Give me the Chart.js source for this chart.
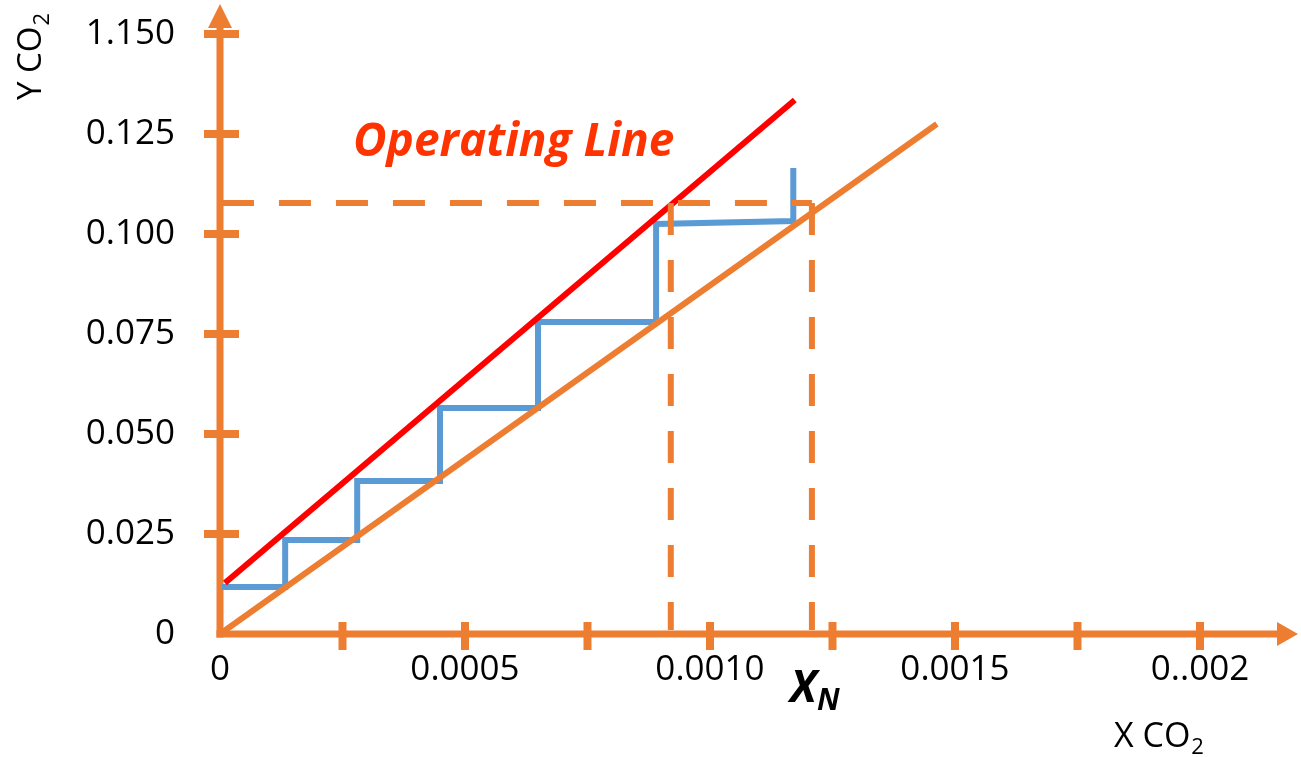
<!DOCTYPE html>
<html><head><meta charset="utf-8">
<script src="https://cdn.jsdelivr.net/npm/chart.js@4.4.1/dist/chart.umd.min.js"></script>
<style>html,body{margin:0;padding:0;background:#fff;overflow:hidden}#wrap{width:1301px;height:757px}</style>
</head><body><div id="wrap"><canvas id="c" width="1301" height="757"></canvas></div>
<script>
// ---- data ----
const xTickValues = [0, 0.00025, 0.0005, 0.00075, 0.001, 0.00125, 0.0015, 0.00175, 0.002];
const xTickLabels = ['0', '', '0.0005', '', '0.0010', '', '0.0015', '', '0..002'];
const yTickValues = [0, 0.025, 0.05, 0.075, 0.1, 0.125, 0.15];
const yTickLabels = ['0', '0.025', '0.050', '0.075', '0.100', '0.125', '1.150'];

const equilibriumX = [0, 0.001463];
const equilibriumY = [0, 0.1275];
const operatingX = [0.00001, 0.001173];
const operatingY = [0.01275, 0.1335];
const stageX = [0.000004, 0.000133, 0.000133, 0.00028, 0.00028, 0.000449, 0.000449, 0.000649, 0.000649, 0.00089, 0.00089, 0.00117, 0.00117];
const stageY = [0.01175, 0.01175, 0.0235, 0.0235, 0.03825, 0.03825, 0.0565, 0.0565, 0.078, 0.078, 0.1025, 0.10325, 0.1165];
const guideHX = [0.000004, 0.001208];
const guideHY = [0.10775, 0.10775];
const guideV1X = [0.00092, 0.00092];
const guideV1Y = [0.10775, 0.001];
const guideV2X = [0.001208, 0.001208];
const guideV2Y = [0.10775, 0.001];

const ORANGE = '#ED7D31', RED = '#FF0000', BLUE = '#5B9BD5';
const FONT = '"Open Sans", "Liberation Sans", sans-serif';

const pts = (xs, ys) => xs.map((x, i) => ({x, y: ys[i]}));
const noPad = s => { s.paddingTop = 0; s.paddingBottom = 0; s.paddingLeft = 0; s.paddingRight = 0; };

const axesPlugin = {
  id: 'axes',
  beforeDatasetsDraw(chart) {
    const {ctx, chartArea: a, scales: {x, y}} = chart;
    const ox = x.getPixelForValue(0), oy = y.getPixelForValue(0);
    ctx.save();
    ctx.strokeStyle = ORANGE; ctx.fillStyle = ORANGE; ctx.lineCap = 'butt';
    ctx.lineWidth = 7;
    ctx.beginPath(); ctx.moveTo(ox, oy + 3.5); ctx.lineTo(ox, a.top + 20); ctx.stroke();
    ctx.beginPath(); ctx.moveTo(ox, a.top); ctx.lineTo(ox - 12, a.top + 24); ctx.lineTo(ox + 12, a.top + 24); ctx.closePath(); ctx.fill();
    ctx.beginPath(); ctx.moveTo(ox - 3.5, oy); ctx.lineTo(a.right - 18, oy); ctx.stroke();
    ctx.beginPath(); ctx.moveTo(a.right, oy); ctx.lineTo(a.right - 21, oy - 12); ctx.lineTo(a.right - 21, oy + 12); ctx.closePath(); ctx.fill();
    ctx.lineWidth = 8;
    yTickValues.forEach(v => { if (v === 0) return; const py = y.getPixelForValue(v);
      ctx.beginPath(); ctx.moveTo(ox - 16, py); ctx.lineTo(ox + 19, py); ctx.stroke(); });
    xTickValues.forEach(v => { if (v === 0) return; const px = x.getPixelForValue(v);
      ctx.beginPath(); ctx.moveTo(px, oy - 12); ctx.lineTo(px, oy + 16); ctx.stroke(); });
    ctx.restore();
  }
};

const textPlugin = {
  id: 'texts',
  afterDraw(chart) {
    const {ctx} = chart;
    ctx.save();
    ctx.textBaseline = 'alphabetic'; ctx.textAlign = 'left';
    ctx.fillStyle = '#FF3300';
    ctx.font = 'italic bold 46px ' + FONT;
    ctx.fillText('Operating Line', 353, 156);
    ctx.fillStyle = '#000';
    ctx.font = 'italic bold 44px ' + FONT;
    ctx.fillText('X', 790, 702);
    ctx.font = 'italic bold 30px ' + FONT;
    ctx.fillText('N', 817, 710);
    ctx.font = '34px ' + FONT;
    ctx.fillText('X CO', 1114, 747);
    let w = ctx.measureText('X CO').width;
    ctx.font = '22px ' + FONT;
    ctx.fillText('2', 1114 + w + 1, 754);
    ctx.translate(41, 100); ctx.rotate(-Math.PI / 2);
    ctx.font = '33px ' + FONT;
    ctx.fillText('Y CO', 0, 0);
    w = ctx.measureText('Y CO').width;
    ctx.font = '22px ' + FONT;
    ctx.fillText('2', w + 1, 8);
    ctx.restore();
  }
};

new Chart(document.getElementById('c'), {
  type: 'scatter',
  data: {
    datasets: [
      {data: pts(guideHX, guideHY), borderColor: ORANGE, borderWidth: 6, borderDash: [32, 25], showLine: true, pointRadius: 0},
      {data: pts(guideV1X, guideV1Y), borderColor: ORANGE, borderWidth: 6, borderDash: [32, 25], showLine: true, pointRadius: 0},
      {data: pts(guideV2X, guideV2Y), borderColor: ORANGE, borderWidth: 6, borderDash: [32, 25], showLine: true, pointRadius: 0},
      {data: pts(equilibriumX, equilibriumY), borderColor: ORANGE, borderWidth: 6, showLine: true, pointRadius: 0},
      {data: pts(operatingX, operatingY), borderColor: RED, borderWidth: 6, showLine: true, pointRadius: 0},
      {data: pts(stageX, stageY), borderColor: BLUE, borderWidth: 6, showLine: true, pointRadius: 0, borderJoinStyle: 'miter'}
    ]
  },
  options: {
    responsive: false, devicePixelRatio: 1, animation: false,
    layout: {padding: {top: 4, right: 3, left: 0, bottom: 0}},
    plugins: {legend: {display: false}, tooltip: {enabled: false}},
    scales: {
      x: {
        type: 'linear', min: 0, max: 0.0022, position: 'bottom',
        grid: {display: false}, border: {display: false},
        afterBuildTicks: s => { s.ticks = xTickValues.map(v => ({value: v})); },
        afterFit: s => { s.height = 123; noPad(s); },
        ticks: {autoSkip: false, maxRotation: 0, padding: 7, color: '#000',
          font: {family: FONT, size: 35}, callback: (v, i) => xTickLabels[i]}
      },
      y: {
        type: 'linear', min: 0, max: 0.1575,
        grid: {display: false}, border: {display: false},
        afterBuildTicks: s => { s.ticks = yTickValues.map(v => ({value: v})); },
        afterFit: s => { s.width = 220; noPad(s); },
        ticks: {autoSkip: false, padding: 37, color: '#000',
          font: {family: FONT, size: 35}, callback: (v, i) => yTickLabels[i]}
      }
    }
  },
  plugins: [axesPlugin, textPlugin]
});
</script></body></html>
